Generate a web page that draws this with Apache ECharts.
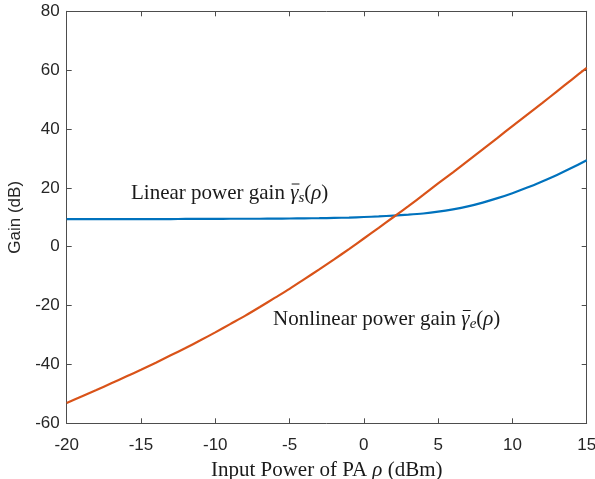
<!DOCTYPE html>
<html>
<head>
<meta charset="utf-8">
<script src="https://cdn.jsdelivr.net/npm/echarts@6/dist/echarts.min.js"></script>
<style>
  html, body { margin: 0; padding: 0; background: #fff; }
  #main { width: 595px; height: 479px; }
</style>
</head>
<body>
<div id="main"></div>
<script>
// input power (dBm)
const inputPower = [-20, -19, -18, -17, -16, -15, -14, -13, -12, -11, -10, -9, -8, -7, -6, -5, -4, -3, -2, -1,
    0, 1, 2, 3, 4, 5, 6, 7, 8, 9, 10, 11, 12, 13, 14, 15];
// linear power gain (dB), blue
const linearGain = [9.4, 9.4, 9.4, 9.4, 9.4, 9.4, 9.4, 9.4, 9.45, 9.45, 9.45, 9.5, 9.5, 9.5, 9.55, 9.6, 9.65, 9.7, 9.8, 9.9,
    10.1, 10.3, 10.6, 10.9, 11.3, 11.9, 12.7, 13.7, 15.0, 16.5, 18.2, 20.1, 22.2, 24.4, 26.8, 29.4];
// nonlinear power gain (dB), orange
const nonlinearGain = [-53.1, -50.9, -48.7, -46.4, -44.1, -41.8, -39.4, -36.9, -34.4, -31.8, -29.1, -26.3, -23.5, -20.5, -17.4, -14.3, -11.0, -7.7, -4.3, -0.8,
    2.8, 6.4, 10.1, 13.8, 17.6, 21.5, 25.3, 29.2, 33.1, 37.0, 41.0, 44.9, 48.8, 52.8, 56.8, 60.8];
const xTicks = [-20, 15, 5];
const yTicks = [-60, 80, 20];

const chart = echarts.init(document.getElementById('main'));

const axisColor = '#4d4d4d';
const textColor = '#1a1a1a';
const labelFont = { color: '#262626', fontSize: 17, fontFamily: 'Liberation Sans' };
const serif = 'Liberation Serif';

const pairs = ys => inputPower.map((x, i) => [x, ys[i]]);

// measure text so the gamma-bar label can be laid out piece by piece
const ctx = document.createElement('canvas').getContext('2d');
const textWidth = (str, font) => { ctx.font = font; return ctx.measureText(str).width; };

// left = start of text, mid = vertical middle of the capitals
function gainLabel(left, mid, prefix, sub) {
    const size = 21;
    const roman = size + 'px "' + serif + '"';
    const italic = 'italic ' + roman;
    const subFont = 'italic ' + Math.round(size * 0.7) + 'px "' + serif + '"';
    const parts = [
        { t: prefix, f: roman, dy: 0 },
        { t: 'γ', f: italic, dy: 0, bar: true },
        { t: sub, f: subFont, dy: 5 },
        { t: '(', f: roman, dy: 0 },
        { t: 'ρ', f: italic, dy: 0 },
        { t: ')', f: roman, dy: 0 }
    ];
    const children = [];
    let x = 0;
    parts.forEach(p => {
        const w = textWidth(p.t, p.f);
        children.push({
            type: 'text', x: x, y: p.dy,
            style: { text: p.t, font: p.f, fill: textColor, verticalAlign: 'middle' }
        });
        if (p.bar) {
            children.push({
                type: 'line',
                shape: { x1: x + 1.5, y1: -9, x2: x + w + 1, y2: -9 },
                style: { stroke: textColor, lineWidth: 1 }
            });
        }
        x += w;
    });
    return { type: 'group', x: left, y: mid, children: children };
}

const option = {
    animation: false,
    grid: { left: 66.7, right: 8.3, top: 11.3, bottom: 55.7, outerBoundsMode: 'none' },
    xAxis: [
        {
            type: 'value', min: xTicks[0], max: xTicks[1], interval: xTicks[2],
            name: 'Input Power of PA {i|ρ} (dBm)', nameLocation: 'middle', nameGap: 37,
            nameTextStyle: {
                color: textColor, fontSize: 21, fontFamily: serif,
                rich: { i: { fontStyle: 'italic', fontSize: 21, fontFamily: serif, color: textColor } }
            },
            axisLine: { onZero: false, lineStyle: { color: axisColor, width: 1 } },
            axisTick: { inside: true, length: 5, lineStyle: { color: axisColor } },
            axisLabel: Object.assign({ margin: 14 }, labelFont),
            splitLine: { show: false }
        },
        {
            type: 'value', position: 'top', min: xTicks[0], max: xTicks[1], interval: xTicks[2],
            axisLine: { onZero: false, lineStyle: { color: axisColor, width: 1 } },
            axisTick: { inside: true, length: 5, lineStyle: { color: axisColor } },
            axisLabel: { show: false },
            splitLine: { show: false }
        }
    ],
    yAxis: [
        {
            type: 'value', min: yTicks[0], max: yTicks[1], interval: yTicks[2],
            name: 'Gain (dB)', nameLocation: 'middle', nameGap: 34,
            nameTextStyle: { color: '#262626', fontSize: 17, fontFamily: 'Liberation Sans' },
            axisLine: { show: true, onZero: false, lineStyle: { color: axisColor, width: 1 } },
            axisTick: { show: true, inside: true, length: 5, lineStyle: { color: axisColor } },
            axisLabel: Object.assign({ margin: 7 }, labelFont),
            splitLine: { show: false }
        },
        {
            type: 'value', position: 'right', min: yTicks[0], max: yTicks[1], interval: yTicks[2],
            axisLine: { show: true, onZero: false, lineStyle: { color: axisColor, width: 1 } },
            axisTick: { show: true, inside: true, length: 5, lineStyle: { color: axisColor } },
            axisLabel: { show: false },
            splitLine: { show: false }
        }
    ],
    series: [
        {
            name: 'Linear power gain', type: 'line', data: pairs(linearGain),
            smooth: 0.3, showSymbol: false, clip: true,
            lineStyle: { color: '#0072BD', width: 2.2 }
        },
        {
            name: 'Nonlinear power gain', type: 'line', data: pairs(nonlinearGain),
            smooth: 0.3, showSymbol: false, clip: true,
            lineStyle: { color: '#D95319', width: 2.2 }
        }
    ],
    graphic: [
        gainLabel(131, 193, 'Linear power gain ', 's'),
        gainLabel(273, 319.5, 'Nonlinear power gain ', 'e')
    ]
};

option && chart.setOption(option);
</script>
</body>
</html>
